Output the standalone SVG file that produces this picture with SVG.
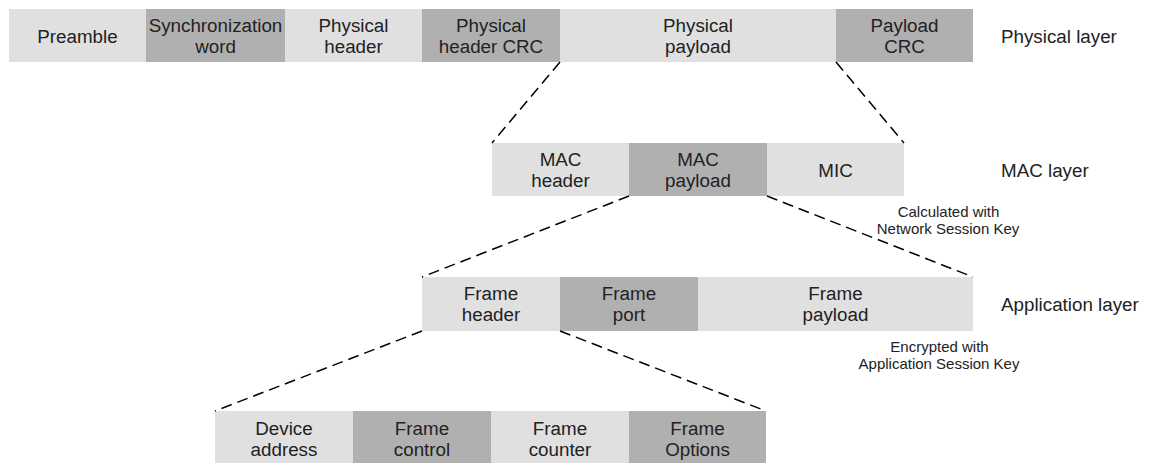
<svg xmlns="http://www.w3.org/2000/svg" width="1152" height="463" viewBox="0 0 1152 463">
  <style>
    .lt { fill: #e0e0e0; }
    .dk { fill: #b0b0b0; }
    .t { font-family: "Liberation Sans", Arial, sans-serif; font-size: 18.8px; fill: #222; text-anchor: middle; }
    .lbl { font-family: "Liberation Sans", Arial, sans-serif; font-size: 18.8px; fill: #222; }
    .note { font-family: "Liberation Sans", Arial, sans-serif; font-size: 15px; fill: #222; text-anchor: middle; }
    .dash { stroke: #000; stroke-width: 1.5; stroke-dasharray: 11 6; fill: none; }
  </style>
  <rect width="1152" height="463" fill="#fff"/>

  <!-- Physical layer -->
  <g id="preamble"><rect class="lt" x="9" y="9" width="137" height="53"/><text class="t" x="77.5" y="43">Preamble</text></g>
  <g id="sync-word"><rect class="dk" x="146" y="9" width="139" height="53"/><text class="t" x="215.5" y="32">Synchronization</text><text class="t" x="215.5" y="53">word</text></g>
  <g id="phys-header"><rect class="lt" x="285" y="9" width="137" height="53"/><text class="t" x="353.5" y="32">Physical</text><text class="t" x="353.5" y="53">header</text></g>
  <g id="phys-header-crc"><rect class="dk" x="422" y="9" width="138" height="53"/><text class="t" x="491" y="32">Physical</text><text class="t" x="491" y="53">header CRC</text></g>
  <g id="phys-payload"><rect class="lt" x="560" y="9" width="276" height="53"/><text class="t" x="698" y="32">Physical</text><text class="t" x="698" y="53">payload</text></g>
  <g id="payload-crc"><rect class="dk" x="836" y="9" width="137" height="53"/><text class="t" x="904.5" y="32">Payload</text><text class="t" x="904.5" y="53">CRC</text></g>
  <text class="lbl" x="1001" y="43">Physical layer</text>

  <!-- MAC layer -->
  <g id="mac-header"><rect class="lt" x="492" y="143" width="137" height="53"/><text class="t" x="560.5" y="166">MAC</text><text class="t" x="560.5" y="187">header</text></g>
  <g id="mac-payload"><rect class="dk" x="629" y="143" width="138" height="53"/><text class="t" x="698" y="166">MAC</text><text class="t" x="698" y="187">payload</text></g>
  <g id="mic"><rect class="lt" x="767" y="143" width="137" height="53"/><text class="t" x="835.5" y="177">MIC</text></g>
  <text class="lbl" x="1001" y="177">MAC layer</text>
  <text class="note" x="948.5" y="217">Calculated with</text>
  <text class="note" x="948" y="234">Network Session Key</text>

  <!-- Application layer -->
  <g id="frame-header"><rect class="lt" x="422" y="277" width="138" height="54"/><text class="t" x="491" y="300">Frame</text><text class="t" x="491" y="321">header</text></g>
  <g id="frame-port"><rect class="dk" x="560" y="277" width="138" height="54"/><text class="t" x="629" y="300">Frame</text><text class="t" x="629" y="321">port</text></g>
  <g id="frame-payload"><rect class="lt" x="698" y="277" width="275" height="54"/><text class="t" x="835.5" y="300">Frame</text><text class="t" x="835.5" y="321">payload</text></g>
  <text class="lbl" x="1001" y="311">Application layer</text>
  <text class="note" x="939.5" y="352">Encrypted with</text>
  <text class="note" x="939" y="369">Application Session Key</text>

  <!-- Frame header fields -->
  <g id="device-address"><rect class="lt" x="215" y="411" width="138" height="52"/><text class="t" x="284" y="435">Device</text><text class="t" x="284" y="456">address</text></g>
  <g id="frame-control"><rect class="dk" x="353" y="411" width="138" height="52"/><text class="t" x="422" y="435">Frame</text><text class="t" x="422" y="456">control</text></g>
  <g id="frame-counter"><rect class="lt" x="491" y="411" width="138" height="52"/><text class="t" x="560" y="435">Frame</text><text class="t" x="560" y="456">counter</text></g>
  <g id="frame-options"><rect class="dk" x="629" y="411" width="137" height="52"/><text class="t" x="697.5" y="435">Frame</text><text class="t" x="697.5" y="456">Options</text></g>

  <!-- Expansion connectors -->
  <g id="connectors">
    <line class="dash" x1="560" y1="62" x2="492" y2="143"/>
    <line class="dash" x1="836" y1="62" x2="904" y2="143"/>
    <line class="dash" x1="629" y1="196" x2="422" y2="277"/>
    <line class="dash" x1="767" y1="196" x2="973" y2="277"/>
    <line class="dash" x1="422" y1="331" x2="215" y2="411"/>
    <line class="dash" x1="560" y1="331" x2="766" y2="411"/>
  </g>
</svg>
